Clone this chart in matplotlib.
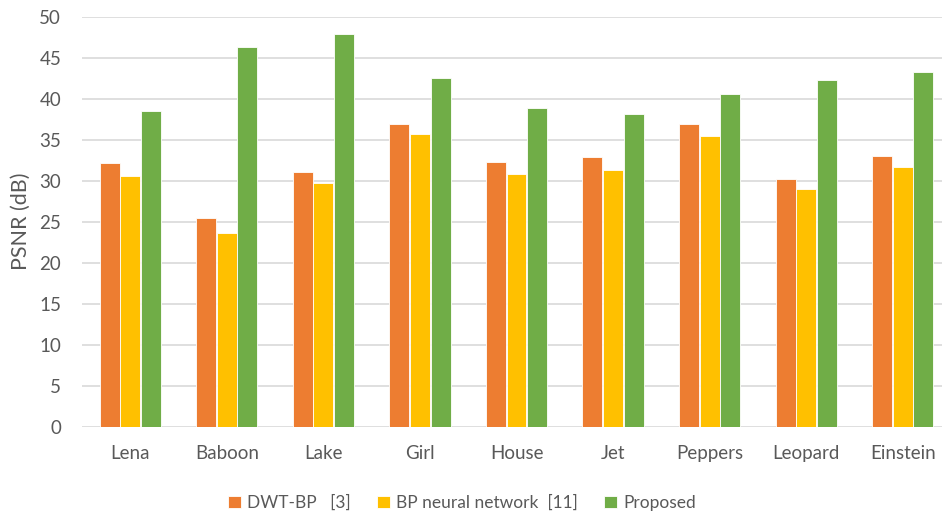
import matplotlib
matplotlib.use("Agg")
import matplotlib.pyplot as plt
import numpy as np

plt.rcParams['font.family'] = ['Lato', 'DejaVu Sans']

images = ["Lena", "Baboon", "Lake", "Girl", "House", "Jet", "Peppers", "Leopard", "Einstein"]
dwt_bp = [32.2, 25.5, 31.1, 36.95, 32.35, 32.9, 36.95, 30.2, 33.1]
bp_nn = [30.6, 23.7, 29.75, 35.7, 30.8, 31.3, 35.5, 29.0, 31.7]
proposed = [38.5, 46.3, 47.9, 42.6, 38.9, 38.2, 40.6, 42.3, 43.3]
series_names = ["DWT-BP   [3]", "BP neural network  [11]", "Proposed"]
colors = ["#ED7D31", "#FFC000", "#70AD47"]
yticks = list(range(0, 51, 5))

fig = plt.figure(figsize=(9.42, 5.15), dpi=100)
ax = fig.add_axes([82 / 942, 88 / 515, 869 / 942, 410 / 515])

x = np.arange(len(images))
width = 0.207
step = 0.213
for i, (vals, name, c) in enumerate(zip([dwt_bp, bp_nn, proposed], series_names, colors)):
    ax.bar(x + (i - 1) * step, vals, width, color=c, label=name,
           edgecolor="white", linewidth=0.6, zorder=3)

ax.set_xlim(-0.5, len(images) - 0.5)
ax.set_ylim(0, 50)
ax.set_yticks(yticks)
ax.set_xticks(x)
ax.set_xticklabels(images)
ax.grid(axis="y", color="#D9D9D9", linewidth=1.2, zorder=0)
ax.set_axisbelow(True)
for s in ax.spines.values():
    s.set_visible(False)
ax.tick_params(axis="both", length=0, labelsize=13.5, colors="#595959")
ax.tick_params(axis="y", pad=15)
ax.tick_params(axis="x", pad=13)

fig.text(21 / 942, 1 - 221 / 515, "PSNR (dB)", rotation=90, ha="center", va="center",
         fontsize=15.5, color="#595959")

fig.legend(loc="center", bbox_to_anchor=(462 / 942, 1 - 503 / 515), ncol=3,
           frameon=False, fontsize=12.5, handlelength=0.75, handleheight=0.75,
           handletextpad=0.35, columnspacing=1.5, labelcolor="#595959")

fig.savefig("out.png", dpi=100)
